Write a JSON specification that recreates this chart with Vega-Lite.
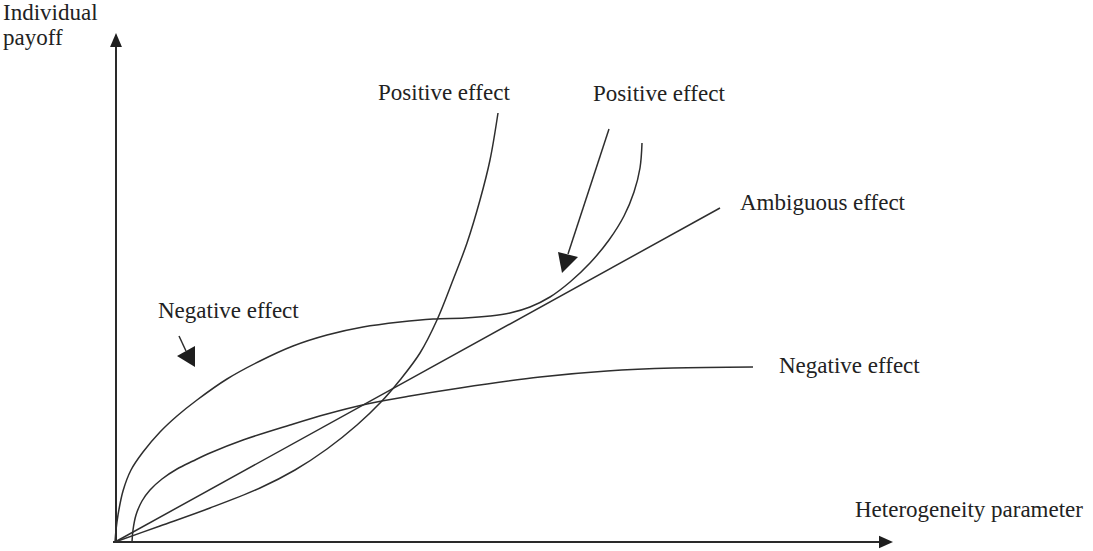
{
  "$schema": "https://vega.github.io/schema/vega-lite/v6.json",
  "width": 1093,
  "height": 551,
  "padding": 0,
  "autosize": {"type": "none"},
  "background": "white",
  "config": {"view": {"stroke": null}},
  "datasets": {
    "curves": [
      {"curve": "A", "o": 0, "x": 0, "y": 0},
      {"curve": "A", "o": 1, "x": 1, "y": 12},
      {"curve": "A", "o": 2, "x": 3, "y": 27},
      {"curve": "A", "o": 3, "x": 8, "y": 51},
      {"curve": "A", "o": 4, "x": 16, "y": 72},
      {"curve": "A", "o": 5, "x": 28, "y": 90},
      {"curve": "A", "o": 6, "x": 45, "y": 110},
      {"curve": "A", "o": 7, "x": 62, "y": 126},
      {"curve": "A", "o": 8, "x": 82, "y": 142},
      {"curve": "A", "o": 9, "x": 112, "y": 163},
      {"curve": "A", "o": 10, "x": 145, "y": 181},
      {"curve": "A", "o": 11, "x": 178, "y": 196},
      {"curve": "A", "o": 12, "x": 212, "y": 207},
      {"curve": "A", "o": 13, "x": 248, "y": 215},
      {"curve": "A", "o": 14, "x": 285, "y": 220},
      {"curve": "A", "o": 15, "x": 318, "y": 223},
      {"curve": "A", "o": 16, "x": 350, "y": 224},
      {"curve": "A", "o": 17, "x": 375, "y": 226},
      {"curve": "A", "o": 18, "x": 395, "y": 229},
      {"curve": "A", "o": 19, "x": 415, "y": 235},
      {"curve": "A", "o": 20, "x": 435, "y": 245},
      {"curve": "A", "o": 21, "x": 455, "y": 260},
      {"curve": "A", "o": 22, "x": 475, "y": 279},
      {"curve": "A", "o": 23, "x": 494, "y": 302},
      {"curve": "A", "o": 24, "x": 509, "y": 326},
      {"curve": "A", "o": 25, "x": 519, "y": 350},
      {"curve": "A", "o": 26, "x": 525, "y": 374},
      {"curve": "A", "o": 27, "x": 527, "y": 399},
      {"curve": "B", "o": 0, "x": 17, "y": 0},
      {"curve": "B", "o": 1, "x": 18, "y": 12},
      {"curve": "B", "o": 2, "x": 21, "y": 27},
      {"curve": "B", "o": 3, "x": 27, "y": 41},
      {"curve": "B", "o": 4, "x": 35, "y": 52},
      {"curve": "B", "o": 5, "x": 47, "y": 63},
      {"curve": "B", "o": 6, "x": 62, "y": 73},
      {"curve": "B", "o": 7, "x": 78, "y": 81},
      {"curve": "B", "o": 8, "x": 95, "y": 89},
      {"curve": "B", "o": 9, "x": 128, "y": 102},
      {"curve": "B", "o": 10, "x": 175, "y": 117},
      {"curve": "B", "o": 11, "x": 212, "y": 128},
      {"curve": "B", "o": 12, "x": 252, "y": 138},
      {"curve": "B", "o": 13, "x": 295, "y": 146},
      {"curve": "B", "o": 14, "x": 345, "y": 154},
      {"curve": "B", "o": 15, "x": 425, "y": 165},
      {"curve": "B", "o": 16, "x": 492, "y": 171},
      {"curve": "B", "o": 17, "x": 558, "y": 174},
      {"curve": "B", "o": 18, "x": 638, "y": 175},
      {"curve": "C", "o": 0, "x": 0, "y": 0},
      {"curve": "C", "o": 1, "x": 45, "y": 16},
      {"curve": "C", "o": 2, "x": 95, "y": 34},
      {"curve": "C", "o": 3, "x": 145, "y": 54},
      {"curve": "C", "o": 4, "x": 180, "y": 72},
      {"curve": "C", "o": 5, "x": 212, "y": 93},
      {"curve": "C", "o": 6, "x": 242, "y": 117},
      {"curve": "C", "o": 7, "x": 266, "y": 140},
      {"curve": "C", "o": 8, "x": 285, "y": 162},
      {"curve": "C", "o": 9, "x": 305, "y": 189},
      {"curve": "C", "o": 10, "x": 322, "y": 222},
      {"curve": "C", "o": 11, "x": 338, "y": 262},
      {"curve": "C", "o": 12, "x": 352, "y": 299},
      {"curve": "C", "o": 13, "x": 365, "y": 342},
      {"curve": "C", "o": 14, "x": 375, "y": 382},
      {"curve": "C", "o": 15, "x": 383, "y": 429},
      {"curve": "L", "o": 0, "x": 0, "y": 0},
      {"curve": "L", "o": 1, "x": 605, "y": 334}
    ],
    "axes": [
      {"x": 1, "y": 0, "x2": 1, "y2": 496},
      {"x": -2, "y": 0, "x2": 766, "y2": 0}
    ],
    "shafts": [
      {"x": 64, "y": 206, "x2": 71, "y2": 191},
      {"x": 494, "y": 413, "x2": 453, "y2": 288}
    ],
    "labels": [
      {"text": "Individual", "x": -112, "y": 522},
      {"text": "payoff", "x": -112, "y": 497},
      {"text": "Positive effect", "x": 263, "y": 442},
      {"text": "Positive effect", "x": 478, "y": 441},
      {"text": "Ambiguous effect", "x": 625, "y": 332},
      {"text": "Negative effect", "x": 43, "y": 224},
      {"text": "Negative effect", "x": 664, "y": 169},
      {"text": "Heterogeneity parameter", "x": 740, "y": 25}
    ]
  },
  "layer": [
    {
      "data": {"name": "axes"},
      "mark": {"type": "rule", "color": "#2a2a2a", "strokeWidth": 2},
      "encoding": {
        "x": {"field": "x", "type": "quantitative", "scale": {"domain": [-115, 978], "nice": false, "zero": false}, "axis": null},
        "y": {"field": "y", "type": "quantitative", "scale": {"domain": [-9, 542], "nice": false, "zero": false}, "axis": null},
        "x2": {"field": "x2"},
        "y2": {"field": "y2"}
      }
    },
    {
      "data": {"name": "curves"},
      "mark": {"type": "line", "color": "#2e2e2e", "strokeWidth": 1.5, "interpolate": "catmull-rom"},
      "encoding": {
        "x": {"field": "x", "type": "quantitative", "scale": {"domain": [-115, 978], "nice": false, "zero": false}, "axis": null},
        "y": {"field": "y", "type": "quantitative", "scale": {"domain": [-9, 542], "nice": false, "zero": false}, "axis": null},
        "detail": {"field": "curve"},
        "order": {"field": "o"}
      }
    },
    {
      "data": {"name": "shafts"},
      "mark": {"type": "rule", "color": "#2e2e2e", "strokeWidth": 1.5},
      "encoding": {
        "x": {"field": "x", "type": "quantitative", "scale": {"domain": [-115, 978], "nice": false, "zero": false}, "axis": null},
        "y": {"field": "y", "type": "quantitative", "scale": {"domain": [-9, 542], "nice": false, "zero": false}, "axis": null},
        "x2": {"field": "x2"},
        "y2": {"field": "y2"}
      }
    },
    {
      "data": {"values": [{"x": 1, "y": 502}]},
      "mark": {"type": "point", "shape": "M 0 -1 L 0.85 1 L -0.85 1 Z", "size": 196, "filled": true, "color": "#1e1e1e", "opacity": 1},
      "encoding": {
        "x": {"field": "x", "type": "quantitative", "scale": {"domain": [-115, 978], "nice": false, "zero": false}, "axis": null},
        "y": {"field": "y", "type": "quantitative", "scale": {"domain": [-9, 542], "nice": false, "zero": false}, "axis": null}
      }
    },
    {
      "data": {"values": [{"x": 771, "y": 0}]},
      "mark": {"type": "point", "shape": "M 1 0 L -1 -0.9 L -1 0.9 Z", "size": 196, "filled": true, "color": "#1e1e1e", "opacity": 1},
      "encoding": {
        "x": {"field": "x", "type": "quantitative", "scale": {"domain": [-115, 978], "nice": false, "zero": false}, "axis": null},
        "y": {"field": "y", "type": "quantitative", "scale": {"domain": [-9, 542], "nice": false, "zero": false}, "axis": null}
      }
    },
    {
      "data": {"values": [{"x": 74, "y": 186}]},
      "mark": {"type": "point", "shape": "M -1.2 0 L 0.6 -1 L 0.6 1.1 Z", "size": 400, "filled": true, "color": "#1e1e1e", "opacity": 1},
      "encoding": {
        "x": {"field": "x", "type": "quantitative", "scale": {"domain": [-115, 978], "nice": false, "zero": false}, "axis": null},
        "y": {"field": "y", "type": "quantitative", "scale": {"domain": [-9, 542], "nice": false, "zero": false}, "axis": null}
      }
    },
    {
      "data": {"values": [{"x": 451, "y": 282}]},
      "mark": {"type": "point", "shape": "M -0.8 -0.8 L 1.2 -0.3 L -0.4 1.3 Z", "size": 400, "filled": true, "color": "#1e1e1e", "opacity": 1},
      "encoding": {
        "x": {"field": "x", "type": "quantitative", "scale": {"domain": [-115, 978], "nice": false, "zero": false}, "axis": null},
        "y": {"field": "y", "type": "quantitative", "scale": {"domain": [-9, 542], "nice": false, "zero": false}, "axis": null}
      }
    },
    {
      "data": {"name": "labels"},
      "mark": {"type": "text", "align": "left", "baseline": "alphabetic", "font": "Liberation Serif", "fontSize": 23, "color": "#222222"},
      "encoding": {
        "x": {"field": "x", "type": "quantitative", "scale": {"domain": [-115, 978], "nice": false, "zero": false}, "axis": null},
        "y": {"field": "y", "type": "quantitative", "scale": {"domain": [-9, 542], "nice": false, "zero": false}, "axis": null},
        "text": {"field": "text"}
      }
    }
  ]
}
